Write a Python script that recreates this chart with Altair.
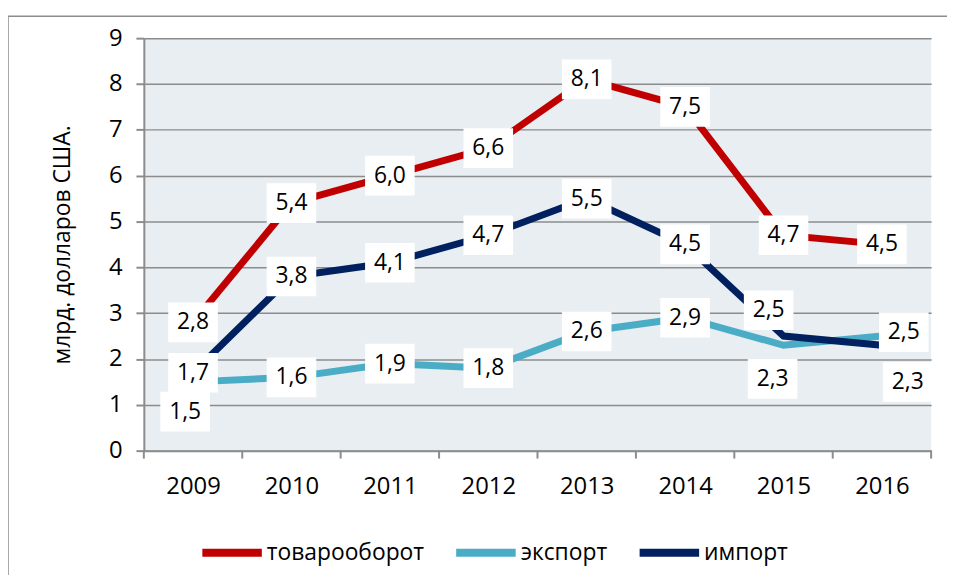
import altair as alt
import pandas as pd

years = [2009, 2010, 2011, 2012, 2013, 2014, 2015, 2016]
series_names = ["товарооборот", "экспорт", "импорт"]
turnover = [2.8, 5.4, 6.0, 6.6, 8.1, 7.5, 4.7, 4.5]
export = [1.5, 1.6, 1.9, 1.8, 2.6, 2.9, 2.3, 2.5]
imports = [1.7, 3.8, 4.1, 4.7, 5.5, 4.5, 2.5, 2.3]
colors = ["#C00000", "#4BACC6", "#002060"]
y_title = "млрд. долларов США."

# pixel nudges for the data labels that sit off their points
label_nudge = {
    ("экспорт", 2009): (-8, 30),
    ("экспорт", 2015): (-11, 34),
    ("экспорт", 2016): (22, -4),
    ("импорт", 2015): (-15, -26),
    ("импорт", 2016): (26, 37),
}

rows = []
for name, vals in zip(series_names, [turnover, export, imports]):
    for yr, v in zip(years, vals):
        dx, dy = label_nudge.get((name, yr), (0, 0))
        rows.append({
            "year": yr,
            "series": name,
            "value": v,
            "label": f"{v:.1f}".replace(".", ","),
            "dx": dx,
            "dy": dy,
        })
df = pd.DataFrame(rows)

# category boundaries for the x-axis tick marks
bounds = pd.DataFrame({"b": [y - 0.5 for y in years] + [years[-1] + 0.5]})

FONT = "Open Sans"
W, H = 794, 416

x_scale = alt.Scale(domain=[years[0] - 0.5, years[-1] + 0.5], nice=False, zero=False)
x_enc = alt.X(
    "year:Q",
    scale=x_scale,
    axis=alt.Axis(
        title=None, values=years, format="d", labelAngle=0, ticks=False,
        labelPadding=24, labelFontSize=24, grid=False,
    ),
)
y_enc = alt.Y(
    "value:Q",
    scale=alt.Scale(domain=[0, 9], nice=False),
    axis=alt.Axis(
        values=list(range(10)), tickSize=8, labelPadding=14, labelFontSize=24,
        title=y_title, titleFontSize=23, titleFontWeight="normal",
        titlePadding=34, grid=True,
    ),
)
color_enc = alt.Color(
    "series:N",
    scale=alt.Scale(domain=series_names, range=colors),
    legend=alt.Legend(
        title=None, orient="none", direction="horizontal",
        legendX=55, legendY=485, symbolType="stroke", symbolSize=3600,
        symbolStrokeWidth=8, labelFontSize=23, labelOffset=1,
        columnPadding=16, labelFont=FONT,
    ),
)

base = alt.Chart(df)

lines = [
    base.transform_filter(alt.datum.series == s)
    .mark_line(strokeWidth=7, strokeJoin="miter")
    .encode(x=x_enc, y=y_enc, color=color_enc)
    for s in series_names
]

box_shape = "M-1.25,-1L1.25,-1L1.25,1L-1.25,1Z"
label_layers = []
for dx, dy in sorted(set(zip(df["dx"], df["dy"]))):
    sub = base.transform_filter((alt.datum.dx == int(dx)) & (alt.datum.dy == int(dy)))
    label_layers.append(
        sub.mark_point(
            shape=box_shape, filled=True, fill="white", opacity=1, size=1600,
            strokeWidth=0, xOffset=int(dx), yOffset=int(dy),
        ).encode(x=x_enc, y=y_enc)
    )
text_layers = []
for dx, dy in sorted(set(zip(df["dx"], df["dy"]))):
    sub = base.transform_filter((alt.datum.dx == int(dx)) & (alt.datum.dy == int(dy)))
    text_layers.append(
        sub.mark_text(
            fontSize=23, font=FONT, color="black", baseline="middle",
            dx=int(dx), dy=int(dy),
        ).encode(x=x_enc, y=y_enc, text="label:N")
    )

xticks = alt.Chart(bounds).mark_rule(color="#8C8C8C", strokeWidth=2).encode(
    x=alt.X("b:Q", scale=x_scale), y=alt.value(H), y2=alt.value(H + 8)
)

frame = alt.Chart(pd.DataFrame({"a": [0]})).mark_rect(
    fill=None, stroke="#8C8C8C", strokeWidth=1.5
).encode(
    x=alt.value(-137), x2=alt.value(W + 40), y=alt.value(-22), y2=alt.value(H + 160)
)

chart = alt.layer(frame, xticks, *lines, *label_layers, *text_layers).properties(
    width=W, height=H,
    autosize=alt.AutoSizeParams(type="none"),
    padding={"left": 137, "top": 28, "right": 16, "bottom": 123},
).configure(
    font=FONT,
).configure_view(
    fill="#E8EEF2", stroke=None
).configure_axis(
    domainColor="#8C8C8C", domainWidth=2, gridColor="#8C8C8C", gridWidth=1.5,
    tickColor="#8C8C8C", tickWidth=2, labelColor="black", titleColor="black",
    labelFont=FONT, titleFont=FONT,
)

chart.save("out.html", embed_options={"renderer": "svg", "actions": False})
